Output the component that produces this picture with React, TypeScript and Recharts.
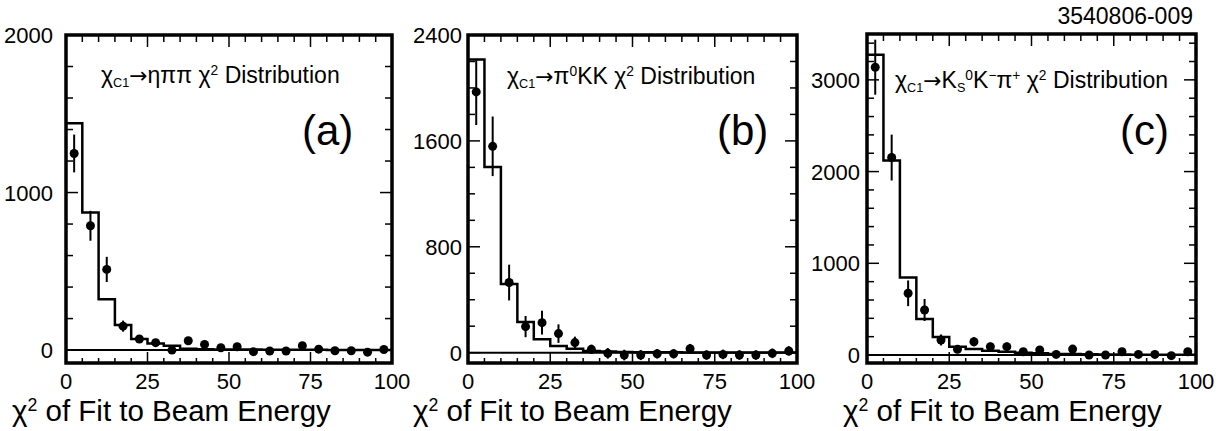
import {
  ComposedChart,
  Line,
  Scatter,
  ErrorBar,
  XAxis,
  YAxis,
  ReferenceLine,
  ReferenceArea,
} from 'recharts'

if (typeof document !== 'undefined') document.body.style.margin = '0'

const FONT = '"Liberation Sans", Arial, Helvetica, sans-serif'

// bin edges / centres of the chi^2 histograms (20 bins of width 5)
const binEdges = [0, 5, 10, 15, 20, 25, 30, 35, 40, 45, 50, 55, 60, 65, 70, 75, 80, 85, 90, 95, 100]
const binCenters = [2.5, 7.5, 12.5, 17.5, 22.5, 27.5, 32.5, 37.5, 42.5, 47.5, 52.5, 57.5, 62.5, 67.5, 72.5, 77.5, 82.5, 87.5, 92.5, 97.5]
const xTicks = [0, 5, 10, 15, 20, 25, 30, 35, 40, 45, 50, 55, 60, 65, 70, 75, 80, 85, 90, 95, 100]
const xLabels = [0, 25, 50, 75, 100]

// (a) chi_c1 -> eta pi pi
const histA = [1440, 874, 322, 159, 70, 42, 28, 9, 5, 4, 3, 3, 2, 2, 2, 2, 1, 1, 1, 1]
const dataA = [1248, 789, 512, 152, 70, 47, 0, 59, 36, 15, 21, -10, -6, -6, 28, 6, -4, -4, -13, 4]
const errA = [120, 95, 80, 35, 25, 22, 18, 18, 15, 15, 15, 14, 14, 14, 15, 14, 14, 14, 14, 14]
const yTicksA = [0, 200, 400, 600, 800, 1000, 1200, 1400, 1600, 1800, 2000]
const yLabelsA = [0, 1000, 2000]

// (b) chi_c1 -> pi0 K K
const histB = [2215, 1402, 518, 232, 101, 50, 30, 13, 8, 5, 4, 3, 3, 2, 2, 2, 2, 1, 1, 1]
const dataB = [1970, 1559, 530, 197, 227, 144, 76, 25, -5, -18, -18, -8, -8, 30, -18, -13, -18, -18, -5, 13]
const errB = [250, 225, 135, 80, 90, 70, 45, 35, 40, 40, 38, 36, 36, 36, 36, 36, 36, 36, 36, 36]
const yTicksB = [0, 200, 400, 600, 800, 1000, 1200, 1400, 1600, 1800, 2000, 2200, 2400]
const yLabelsB = [0, 800, 1600, 2400]

// (c) chi_c1 -> Ks0 K- pi+
const histC = [3273, 2120, 844, 393, 196, 91, 65, 47, 36, 25, 18, 12, 10, 8, 6, 5, 4, 3, 3, 2]
const dataC = [3138, 2153, 673, 491, 164, 62, 145, 91, 91, 36, 55, 7, 65, 0, 0, 36, 7, 7, -7, 36]
const errC = [300, 250, 140, 120, 60, 40, 50, 45, 45, 35, 35, 30, 35, 30, 30, 30, 30, 30, 30, 35]
const yTicksC = [0, 200, 400, 600, 800, 1000, 1200, 1400, 1600, 1800, 2000, 2200, 2400, 2600, 2800, 3000, 3200, 3400]
const yLabelsC = [0, 1000, 2000, 3000]

const histRows = (h: number[]) => binEdges.map((x, i) => ({ x, y: h[Math.min(i, h.length - 1)] }))
const pointRows = (v: number[], e: number[]) => binCenters.map((x, i) => ({ x, y: v[i], err: e[i] }))

interface TickProps {
  x: number
  y: number
  payload: { value: number }
}

const TICK_W = 1.5

const bottomTick = (labels: number[]) => (p: TickProps) => {
  const major = labels.includes(p.payload.value)
  return (
    <g>
      <line x1={p.x} x2={p.x} y1={p.y} y2={p.y - (major ? 11 : 5)} stroke="#000" strokeWidth={TICK_W} />
      {major && (
        <text x={p.x} y={p.y + 26} textAnchor="middle" fontSize={22} fontFamily={FONT} fill="#000">
          {p.payload.value}
        </text>
      )}
    </g>
  )
}

const topTick = (labels: number[]) => (p: TickProps) => {
  const major = labels.includes(p.payload.value)
  return <line x1={p.x} x2={p.x} y1={p.y} y2={p.y + (major ? 12 : 7)} stroke="#000" strokeWidth={TICK_W} />
}

const leftTick = (labels: number[], gap: number) => (p: TickProps) => {
  const major = labels.includes(p.payload.value)
  return (
    <g>
      <line x1={p.x} x2={p.x + (major ? 12 : 7)} y1={p.y} y2={p.y} stroke="#000" strokeWidth={TICK_W} />
      {major && (
        <text x={p.x - gap} y={p.y + 8} textAnchor="end" fontSize={22} fontFamily={FONT} fill="#000">
          {p.payload.value}
        </text>
      )}
    </g>
  )
}

const rightTick = (labels: number[]) => (p: TickProps) => {
  const major = labels.includes(p.payload.value)
  return <line x1={p.x} x2={p.x - (major ? 12 : 7)} y1={p.y} y2={p.y} stroke="#000" strokeWidth={TICK_W} />
}

const Dot = (p: { cx?: number; cy?: number }) => <circle cx={p.cx} cy={p.cy} r={4.5} fill="#000" />

interface PanelProps {
  hist: number[]
  values: number[]
  errors: number[]
  yDomain: [number, number]
  yTicks: number[]
  yLabels: number[]
  frameLeft: number
  frameRight: number
  frameTop: number
  labelGap: number
}

const FRAME_BOTTOM = 363
const H = 431

function Panel(props: PanelProps) {
  const { hist, values, errors, yDomain, yTicks, yLabels, frameLeft, frameRight, frameTop, labelGap } = props
  const padL = 65
  const padR = 22
  const width = frameRight - frameLeft + padL + padR
  // axes are 1px thick (a 0px axis is not drawn), so the margins give that pixel back
  return (
    <div style={{ position: 'absolute', left: frameLeft - padL, top: 0 }}>
      <ComposedChart
        width={width}
        height={H}
        margin={{ top: frameTop - 1, right: padR - 1, bottom: H - FRAME_BOTTOM - 1, left: padL - 1 }}
      >
        <XAxis
          type="number"
          dataKey="x"
          domain={[0, 100]}
          ticks={xTicks}
          interval={0}
          height={1}
          tickSize={0}
          tickMargin={0}
          axisLine={false}
          tickLine={false}
          tick={bottomTick(xLabels)}
          allowDataOverflow
        />
        <XAxis
          xAxisId="top"
          orientation="top"
          type="number"
          dataKey="x"
          domain={[0, 100]}
          ticks={xTicks}
          interval={0}
          height={1}
          tickSize={0}
          tickMargin={0}
          axisLine={false}
          tickLine={false}
          tick={topTick(xLabels)}
          allowDataOverflow
        />
        <YAxis
          type="number"
          dataKey="y"
          domain={yDomain}
          ticks={yTicks}
          interval={0}
          width={1}
          tickSize={0}
          tickMargin={0}
          axisLine={false}
          tickLine={false}
          tick={leftTick(yLabels, labelGap)}
          allowDataOverflow
        />
        <YAxis
          yAxisId="right"
          orientation="right"
          type="number"
          dataKey="y"
          domain={yDomain}
          ticks={yTicks}
          interval={0}
          width={1}
          tickSize={0}
          tickMargin={0}
          axisLine={false}
          tickLine={false}
          tick={rightTick(yLabels)}
          allowDataOverflow
        />
        <ReferenceLine y={0} stroke="#000" strokeWidth={2} />
        <Line
          data={histRows(hist)}
          dataKey="y"
          type="stepAfter"
          stroke="#000"
          strokeWidth={2.5}
          dot={false}
          activeDot={false}
          isAnimationActive={false}
        />
        <Scatter data={pointRows(values, errors)} dataKey="y" fill="#000" shape={Dot} isAnimationActive={false}>
          <ErrorBar dataKey="err" direction="y" width={0} stroke="#000" strokeWidth={2} isAnimationActive={false} />
        </Scatter>
        <ReferenceArea
          x1={0}
          x2={100}
          y1={yDomain[0]}
          y2={yDomain[1]}
          fill="none"
          fillOpacity={0}
          stroke="#000"
          strokeWidth={3.5}
          ifOverflow="visible"
        />
      </ComposedChart>
    </div>
  )
}

const sub = (t: string) => (
  <span style={{ fontSize: '0.55em', position: 'relative', top: '0.35em', lineHeight: 0 }}>{t}</span>
)
const sup = (t: string) => (
  <span style={{ fontSize: '0.6em', position: 'relative', top: '-0.55em', lineHeight: 0 }}>{t}</span>
)
const arrow = <span style={{ fontFamily: '"DejaVu Sans", sans-serif', fontSize: '0.95em' }}>→</span>

const textStyle = (left: number, top: number, size: number): React.CSSProperties => ({
  position: 'absolute',
  left,
  top,
  fontSize: size,
  lineHeight: `${size}px`,
  fontFamily: FONT,
  whiteSpace: 'nowrap',
  color: '#000',
})

function AxisTitle({ left }: { left: number }) {
  return (
    <div style={textStyle(left, 396, 29.5)}>
      χ{sup('2')} of Fit to Beam Energy
    </div>
  )
}

export default function App() {
  return (
    <div style={{ position: 'relative', width: 1219, height: 431, background: '#fff', overflow: 'hidden' }}>
      <Panel
        hist={histA}
        values={dataA}
        errors={errA}
        yDomain={[-82, 2000]}
        yTicks={yTicksA}
        yLabels={yLabelsA}
        frameLeft={66}
        frameRight={392}
        frameTop={35}
        labelGap={13}
      />
      <Panel
        hist={histB}
        values={dataB}
        errors={errB}
        yDomain={[-78, 2400]}
        yTicks={yTicksB}
        yLabels={yLabelsB}
        frameLeft={468}
        frameRight={797}
        frameTop={35}
        labelGap={6}
      />
      <Panel
        hist={histC}
        values={dataC}
        errors={errC}
        yDomain={[-87, 3500]}
        yTicks={yTicksC}
        yLabels={yLabelsC}
        frameLeft={867}
        frameRight={1196}
        frameTop={34}
        labelGap={7}
      />

      <div style={textStyle(101, 64, 23)}>
        χ{sub('C1')}{arrow}ηππ χ{sup('2')} Distribution
      </div>
      <div style={textStyle(507, 65, 23)}>
        χ{sub('C1')}{arrow}π{sup('0')}KK χ{sup('2')} Distribution
      </div>
      <div style={textStyle(895, 69, 23)}>
        χ{sub('C1')}{arrow}K{sub('S')}{sup('0')}K{sup('−')}π{sup('+')} χ{sup('2')} Distribution
      </div>

      <div style={textStyle(302, 110, 42)}>(a)</div>
      <div style={textStyle(717, 110, 42)}>(b)</div>
      <div style={textStyle(1120, 110, 42)}>(c)</div>

      <div style={{ ...textStyle(0, 5, 23), left: undefined, right: 26 }}>3540806-009</div>

      <AxisTitle left={12} />
      <AxisTitle left={413} />
      <AxisTitle left={843} />
    </div>
  )
}
